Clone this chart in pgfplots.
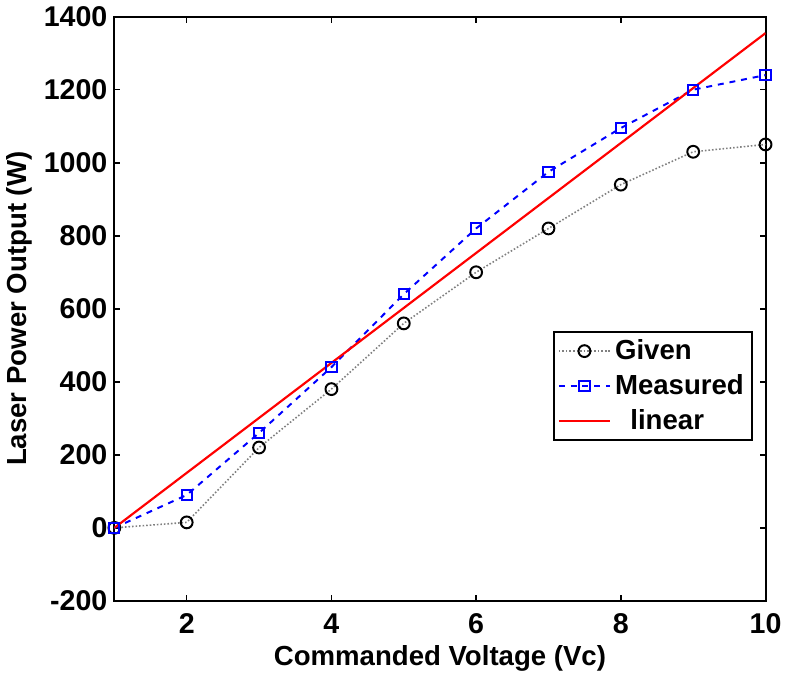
\documentclass[border=0pt]{standalone}
\usepackage{pgfplots}
\pgfplotsset{compat=1.18}
\usepackage{fontspec}
\setmainfont{Liberation Sans}
\begin{document}
\begin{tikzpicture}
\begin{axis}[
    scale only axis,
    width=330.5pt, height=296.5pt,
    xmin=1, xmax=10, ymin=-200, ymax=1400,
    xtick={2,4,...,10},
    ytick={-200,0,...,1400},
    tick align=inside,
    major tick length=3pt,
    axis line style={line width=1pt},
    every tick/.style={black, line width=0.8pt},
    /pgf/number format/assume math mode=true,
    /pgf/number format/1000 sep={},
    tick label style={font=\fontsize{14.5}{16}\selectfont\bfseries},
    xticklabel style={yshift=-3pt},
    label style={font=\fontsize{14}{16}\selectfont\bfseries},
    xlabel={Commanded Voltage (Vc)},
    ylabel={Laser Power Output (W)},
    xlabel style={yshift=1pt},
    ylabel style={yshift=-1pt},
    legend style={at={(0.980,0.462)}, anchor=north east,
        font=\fontsize{14}{16}\selectfont\bfseries,
        draw=black, line width=0.8pt, inner sep=2pt,
        row sep=2pt, cells={anchor=west}},
    legend image code/.code={\draw[mark repeat=2,mark phase=2,#1]
        plot coordinates {(0pt,0pt) (13pt,0pt) (26pt,0pt)};},
    legend cell align=left,
]
\addplot[gray, densely dotted, line width=0.8pt,
    mark=o, mark size=3pt, mark options={black, solid, line width=1pt}]
    coordinates {(1,0) (2,15) (3,220) (4,380) (5,560) (6,700) (7,820) (8,940) (9,1030) (10,1050)};
\addlegendentry{Given}
\addplot[blue, dashed, line width=1pt,
    mark=square, mark size=2.6pt, mark options={solid, line width=1pt}]
    coordinates {(1,0) (2,90) (3,260) (4,440) (5,640) (6,820) (7,975) (8,1095) (9,1200) (10,1240)};
\addlegendentry{Measured}
\addplot[red, line width=1.1pt] coordinates {(1,0) (10,1355)};
\addlegendentry{\ \ linear}
\end{axis}
\end{tikzpicture}
\end{document}
